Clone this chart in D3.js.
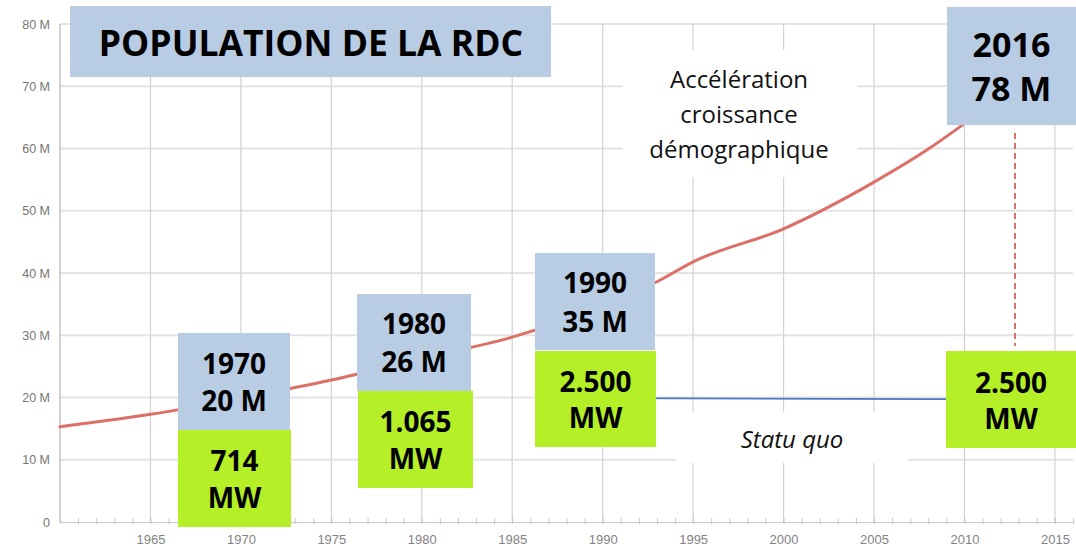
<!DOCTYPE html>
<html><head><meta charset="utf-8">
<script src="https://cdn.jsdelivr.net/npm/d3@7"></script>
<style>body{margin:0;background:#fff}svg{display:block}</style>
</head><body><svg id="c" width="1076" height="548"></svg>
<script>
// ---- data ----
const years = [1960,1965,1970,1975,1980,1985,1990,1993,1995,2000,2005,2008,2010,2012];
const population = [15.3,17.3,19.9,22.8,26.3,29.7,34.8,38.6,41.8,47.1,54.6,59.9,64.0,68.3];
const statusQuoYears = [1990, 2013];
const statusQuoValues = [19.9, 19.7];
const yTicks = [0,10,20,30,40,50,60,70,80];
const xTicks = [1965,1970,1975,1980,1985,1990,1995,2000,2005,2010,2015];
const annYears = ["1970","1980","1990","2016"];
const annPopulation = ["20 M","26 M","35 M","78 M"];
const annPower = ["714","1.065","2.500","2.500"];
const annUnit = "MW";
const title = "POPULATION DE LA RDC";
const noteLines = ["Accélération","croissance","démographique"];
const statusLabel = "Statu quo";

// ---- layout ----
const svg = d3.select("#c");
const x = d3.scaleLinear().domain([1960, 2016]).range([60, 1073]);
const y = d3.scaleLinear().domain([0, 80]).range([522, 24]);
const BLUE = "#b8cce4", GREEN = "#b4ef27";

svg.append("rect").attr("width",1076).attr("height",548).attr("fill","#fff");

// horizontal gridlines
svg.append("g").selectAll("line").data(yTicks.filter(d=>d>0)).join("line")
  .attr("x1",60).attr("x2",1073).attr("y1",d=>y(d)).attr("y2",d=>y(d))
  .attr("stroke","#e4e4e4").attr("stroke-width",2);
// vertical gridlines
svg.append("g").selectAll("line").data(xTicks).join("line")
  .attr("x1",d=>x(d)).attr("x2",d=>x(d)).attr("y1",y(80)).attr("y2",y(0))
  .attr("stroke","#d2d2d2").attr("stroke-width",1.2);
// y axis line
svg.append("line").attr("x1",60).attr("x2",60).attr("y1",y(80)).attr("y2",y(0))
  .attr("stroke","#b5b5b5").attr("stroke-width",1.2);

// y axis labels
const yAxis = d3.axisLeft(y).tickValues(yTicks).tickSize(0).tickPadding(10)
  .tickFormat(d => d === 0 ? "0" : d + " M");
const gy = svg.append("g").attr("transform","translate(60,0)").call(yAxis);
gy.select(".domain").remove();
gy.selectAll("text").attr("font-family","Liberation Sans, Arial, sans-serif")
  .attr("font-size",12.5).attr("fill","#767676");

// x axis: baseline, minor ticks, labels
const xAxis = d3.axisBottom(x).tickValues(d3.range(1960, 2017, 1)).tickSize(0).tickFormat("");
const gx = svg.append("g").attr("transform",`translate(0,${y(0)})`).call(xAxis);
gx.select(".domain").attr("stroke","#c8c8c8").attr("stroke-width",1.2);
gx.selectAll(".tick line").attr("y1",-4).attr("y2",2).attr("stroke","#c8c8c8");
const gxl = svg.append("g").attr("transform",`translate(0,${y(0)})`)
  .call(d3.axisBottom(x).tickValues(xTicks).tickSize(0).tickPadding(13).tickFormat(d3.format("d")));
gxl.select(".domain").remove();
gxl.selectAll("text").attr("font-family","Liberation Sans, Arial, sans-serif")
  .attr("font-size",13).attr("fill","#838383");

// white background panels behind notes
svg.append("rect").attr("x",623).attr("y",50).attr("width",234).attr("height",127).attr("fill","#fff");
svg.append("rect").attr("x",676).attr("y",412).attr("width",232).attr("height",51).attr("fill","#fff");

// population line
const popData = years.map((yr,i)=>({yr, v: population[i]}));
svg.append("path").datum(popData)
  .attr("d", d3.line().x(d=>x(d.yr)).y(d=>y(d.v)).curve(d3.curveMonotoneX))
  .attr("fill","none").attr("stroke","#dc6f66").attr("stroke-width",3).attr("stroke-linecap","round");

// status quo line
const sqData = statusQuoYears.map((yr,i)=>({yr, v: statusQuoValues[i]}));
svg.append("path").datum(sqData)
  .attr("d", d3.line().x(d=>x(d.yr)).y(d=>y(d.v)))
  .attr("fill","none").attr("stroke","#4a78c2").attr("stroke-width",1.6);

// dashed connector
svg.append("line").attr("x1",1015).attr("x2",1015).attr("y1",133).attr("y2",346)
  .attr("stroke","#c9453f").attr("stroke-width",1.5).attr("stroke-dasharray","6,4");

// annotation boxes
const boxes = [
  {blue:[178,333,112,97], green:[178,430,113,97], b:[374,411], g:[471,508], fs:28},
  {blue:[357,294,114,97], green:[358,391,115,97], b:[334,372], g:[432,469], fs:28},
  {blue:[535,253,120,97], green:[535,351,121,96], b:[293,332], g:[392,428], fs:28},
  {blue:[947,7,129,118], green:[946,351,130,97], b:[57,101], g:[393,429], fs:34}
];
const font = "'Open Sans', 'Noto Sans', sans-serif";
boxes.forEach((bx,i)=>{
  svg.append("rect").attr("x",bx.blue[0]).attr("y",bx.blue[1]).attr("width",bx.blue[2]).attr("height",bx.blue[3]).attr("fill",BLUE);
  svg.append("rect").attr("x",bx.green[0]).attr("y",bx.green[1]).attr("width",bx.green[2]).attr("height",bx.green[3]).attr("fill",GREEN);
  const cb = bx.blue[0] + bx.blue[2]/2, cg = bx.green[0] + bx.green[2]/2;
  [annYears[i], annPopulation[i]].forEach((t,j)=>{
    svg.append("text").attr("x",cb).attr("y",bx.b[j]).attr("text-anchor","middle")
      .attr("font-family",font).attr("font-weight","bold").attr("font-size",bx.fs).attr("fill","#000").text(t);
  });
  [annPower[i], annUnit].forEach((t,j)=>{
    svg.append("text").attr("x",cg).attr("y",bx.g[j]).attr("text-anchor","middle")
      .attr("font-family",font).attr("font-weight","bold").attr("font-size",28).attr("fill","#000").text(t);
  });
});

// title
svg.append("rect").attr("x",70).attr("y",6).attr("width",481).attr("height",71).attr("fill",BLUE);
svg.append("text").attr("x",311).attr("y",56).attr("text-anchor","middle")
  .attr("font-family",font).attr("font-weight","bold").attr("font-size",35.5).attr("fill","#000").text(title);

// note text
noteLines.forEach((t,i)=>{
  svg.append("text").attr("x",739).attr("y",88 + i*35).attr("text-anchor","middle")
    .attr("font-family",font).attr("font-size",24).attr("fill","#111").text(t);
});
svg.append("text").attr("x",792).attr("y",448).attr("text-anchor","middle")
  .attr("font-family",font).attr("font-style","italic").attr("font-size",24).attr("fill","#111").text(statusLabel);
</script></body></html>
